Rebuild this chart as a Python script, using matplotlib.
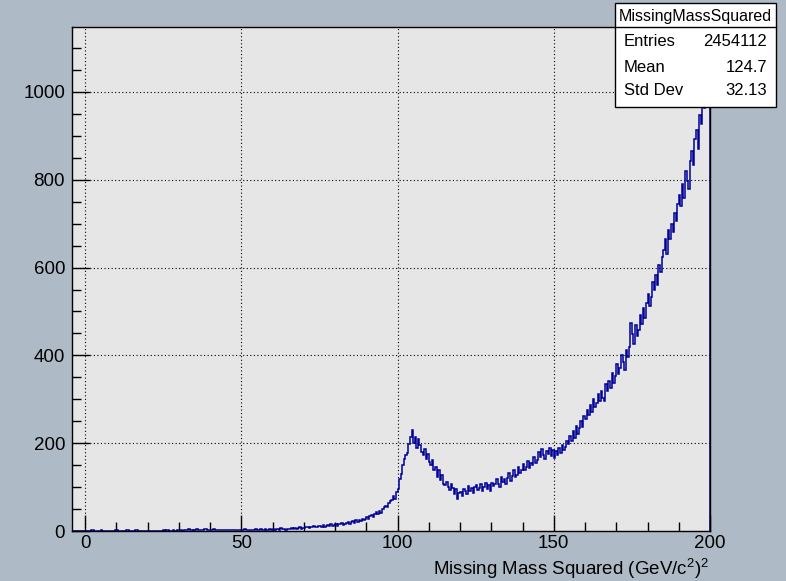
import numpy as np
import matplotlib
matplotlib.use("Agg")
import matplotlib.pyplot as plt
from matplotlib.patches import Rectangle
from matplotlib.lines import Line2D
from matplotlib.ticker import MultipleLocator

plt.rcParams['font.family'] = ['Liberation Sans', 'DejaVu Sans']
plt.rcParams['mathtext.fontset'] = 'custom'
plt.rcParams['mathtext.rm'] = 'Liberation Sans'
plt.rcParams['mathtext.it'] = 'Liberation Sans'

# Histogram binning: 0.5 (GeV/c^2)^2 bins from -4 to 200
bin_low = -4.0
bin_high = 200.0
bin_width = 0.5

# Bin contents, ten bins per row (5 units of missing mass squared per row)
counts = [
    0, 0, 0, 0, 0, 0, 0, 0,                      # -4 .. 0
    0, 0, 0, 0, 2, 3, 0, 0, 0, 0,                # 0 .. 5
    2, 0, 0, 0, 0, 0, 0, 0, 0, 2,                # 5 .. 10
    3, 0, 0, 0, 0, 0, 2, 3, 0, 0,                # 10 .. 15
    0, 0, 3, 2, 0, 0, 0, 0, 0, 0,                # 15 .. 20
    0, 0, 0, 0, 0, 0, 0, 0, 0, 0,                # 20 .. 25
    2, 0, 3, 2, 0, 0, 2, 0, 0, 3,                # 25 .. 30
    2, 3, 0, 2, 3, 2, 4, 3, 2, 0,                # 30 .. 35
    3, 4, 2, 3, 3, 2, 4, 5, 3, 2,                # 35 .. 40
    3, 2, 4, 3, 2, 3, 2, 3, 2, 2,                # 40 .. 45
    2, 3, 2, 2, 3, 2, 2, 3, 2, 3,                # 45 .. 50
    2, 3, 4, 2, 3, 2, 2, 3, 2, 4,                # 50 .. 55
    3, 2, 4, 3, 3, 5, 3, 2, 4, 3,                # 55 .. 60
    4, 3, 5, 4, 3, 6, 4, 5, 3, 5,                # 60 .. 65
    5, 4, 6, 5, 7, 4, 6, 8, 5, 7,                # 65 .. 70
    7, 9, 8, 6, 10, 9, 11, 8, 10, 12,            # 70 .. 75
    11, 9, 13, 10, 12, 14, 11, 15, 12, 14,       # 75 .. 80
    15, 12, 17, 16, 19, 14, 15, 18, 21, 17,      # 80 .. 85
    20, 23, 18, 24, 21, 26, 22, 28, 25, 27,      # 85 .. 90
    31, 27, 34, 36, 32, 38, 43, 38, 46, 42,      # 90 .. 95
    50, 55, 58, 54, 64, 68, 71, 80, 74, 88,      # 95 .. 100
    96, 118, 130, 150, 164, 172, 178, 198, 214, 230,   # 100 .. 105
    200, 214, 188, 210, 196, 180, 172, 186, 164, 176,  # 105 .. 110
    158, 150, 162, 138, 146, 124, 138, 116, 128, 108,  # 110 .. 115
    104, 112, 100, 94, 108, 98, 84, 96, 72, 86,        # 115 .. 120
    88, 80, 96, 90, 84, 102, 92, 98, 86, 100,          # 120 .. 125
    104, 94, 98, 108, 90, 100, 110, 96, 104, 92,       # 125 .. 130
    110, 102, 106, 118, 108, 100, 124, 112, 118, 106,  # 130 .. 135
    120, 132, 114, 126, 140, 122, 128, 146, 132, 138,  # 135 .. 140
    152, 138, 146, 160, 144, 156, 150, 168, 156, 162,  # 140 .. 145
    180, 168, 186, 174, 164, 182, 176, 190, 170, 184,  # 145 .. 150
    166, 182, 174, 188, 178, 196, 184, 192, 206, 198,  # 150 .. 155
    216, 204, 228, 212, 240, 222, 234, 250, 238, 262,  # 155 .. 160
    256, 276, 264, 288, 270, 300, 282, 292, 312, 296,  # 160 .. 165
    320, 304, 296, 334, 318, 342, 326, 360, 338, 352,  # 165 .. 170
    380, 358, 372, 400, 384, 366, 412, 396, 420, 474,  # 170 .. 175
    448, 426, 470, 444, 458, 492, 472, 508, 486, 520,  # 175 .. 180
    540, 512, 532, 568, 548, 584, 560, 606, 590, 624,  # 180 .. 185
    640, 664, 630, 686, 666, 700, 680, 724, 706, 744,  # 185 .. 190
    766, 740, 790, 758, 820, 798, 778, 842, 866, 834,  # 190 .. 195
    892, 914, 870, 948, 928, 990, 964, 1018, 1092, 970,  # 195 .. 200
]

x_ticks = [0, 50, 100, 150, 200]
y_ticks = [0, 200, 400, 600, 800, 1000]

stats_title = "MissingMassSquared"
stats_rows = [("Entries", "2454112"), ("Mean", "124.7"), ("Std Dev", "32.13")]
x_title = r"Missing Mass Squared (GeV/c$^{2}$)$^{2}$"

W, H = 786, 581
fig = plt.figure(figsize=(W / 100, H / 100), dpi=100)
fig.patch.set_facecolor('#aebbc6')

def fx(px):
    return px / W

def fy(py):
    return 1 - py / H

ax = fig.add_axes([fx(72), fy(531), fx(710) - fx(72), fy(27) - fy(531)])
ax.set_facecolor('#e6e6e6')

edges = bin_low + bin_width * np.arange(len(counts) + 1)
ax.stairs(counts, edges, color='#000099', linewidth=1.1, baseline=0)

ax.set_xlim(-4.2, bin_high)
ax.set_ylim(0, 1148)

ax.set_xticks(x_ticks)
ax.set_yticks(y_ticks)
ax.xaxis.set_minor_locator(MultipleLocator(10))
ax.yaxis.set_minor_locator(MultipleLocator(50))
ax.tick_params(axis='both', which='both', direction='in', colors='black',
               top=False, right=False, labelsize=13.5, width=1.0)
ax.tick_params(axis='x', which='major', length=11.5, pad=3)
ax.tick_params(axis='x', which='minor', length=6.5)
ax.tick_params(axis='y', which='major', length=13, pad=5)
ax.tick_params(axis='y', which='minor', length=6.5)

ax.grid(True, which='major', color='black', linestyle=(0, (1, 2.2)), linewidth=0.8)
ax.set_axisbelow(True)
for s in ax.spines.values():
    s.set_color('black')
    s.set_linewidth(1.0)

fig.text(fx(709), fy(575), x_title, ha='right', va='baseline', fontsize=13.5)

# statistics box
bx0, bx1, by0, by1 = 615, 776, 3, 107
fig.add_artist(Rectangle((fx(bx0), fy(by1)), fx(bx1) - fx(bx0), fy(by0) - fy(by1),
                         transform=fig.transFigure, facecolor='white',
                         edgecolor='black', linewidth=1.0, zorder=10))
fig.add_artist(Line2D([fx(bx0), fx(bx1)], [fy(27), fy(27)], transform=fig.transFigure,
                      color='black', linewidth=1.0, zorder=11))
fig.text(fx((bx0 + bx1) / 2), fy(16), stats_title, ha='center', va='center',
         fontsize=11.5, zorder=12)
for (name, val), yy in zip(stats_rows, [42, 67, 91]):
    fig.text(fx(624), fy(yy), name, ha='left', va='center', fontsize=12, zorder=12)
    fig.text(fx(767), fy(yy), val, ha='right', va='center', fontsize=12, zorder=12)

fig.savefig('out.png', dpi=100, facecolor=fig.get_facecolor())
